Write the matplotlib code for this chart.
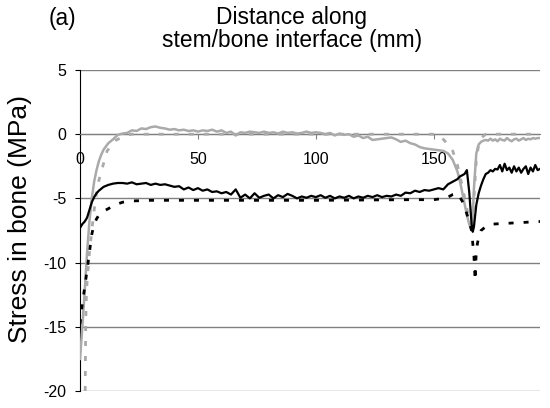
#! /usr/bin/env python

# Stress in bone along the stem/bone interface, panel (a)

import matplotlib
matplotlib.use('Agg')
import matplotlib.pyplot as plt

plt.rcParams['font.family'] = ['Liberation Sans', 'DejaVu Sans']
plt.rcParams['axes.unicode_minus'] = False

# solid lines share one x grid (mm)
x_solid = [0, 1, 2, 3, 4, 5, 6, 7, 8, 9, 10,
           12, 14, 16, 18, 20, 22, 24, 26, 28, 30, 32, 34, 36, 38, 40,
           42, 44, 46, 48, 50, 52, 54, 56, 58, 60, 62, 64, 66, 68, 70,
           72, 74, 76, 78, 80, 82, 84, 86, 88, 90, 92, 94, 96, 98, 100,
           102, 104, 106, 108, 110, 112, 114, 116, 118, 120, 122, 124, 126, 128, 130,
           132, 134, 136, 138, 140, 142, 144, 146, 148, 150, 152, 154, 156, 158, 160,
           161, 162, 163, 164, 165, 166, 166.5,
           167, 168, 169, 170, 171, 172, 173, 174, 175, 176, 177, 178, 179, 180,
           181, 182, 183, 184, 185, 186, 187, 188, 189, 190, 191, 192, 193, 194, 195]

black_solid = [-7.3, -7.0, -6.8, -6.5, -5.9, -5.3, -4.9, -4.6, -4.4, -4.25, -4.1,
               -3.95, -3.85, -3.8, -3.8, -3.85, -3.75, -3.9, -3.85, -3.8, -3.95, -3.85, -3.95, -3.9, -4.0, -4.1,
               -4.05, -4.3, -4.15, -4.35, -4.2, -4.4, -4.3, -4.5, -4.45, -4.6, -4.5, -4.7, -4.3, -4.95, -4.7,
               -5.0, -4.6, -4.95, -4.8, -4.7, -5.0, -4.75, -4.9, -4.65, -4.8, -5.0, -4.85, -4.95, -4.8, -4.9,
               -4.75, -4.95, -4.8, -5.0, -4.85, -4.95, -4.8, -5.0, -4.85, -4.95, -4.8, -4.9, -4.75, -4.9, -4.8,
               -4.85, -4.7, -4.8, -4.55, -4.6, -4.4, -4.5, -4.35, -4.4, -4.3, -4.2, -4.3, -3.9, -3.7, -3.5,
               -3.3, -3.2, -3.1, -2.8, -4.5, -7.0, -7.6,
               -7.2, -5.5, -4.6, -4.0, -3.5, -3.1, -3.0, -2.8, -2.9, -2.7, -2.75, -2.4, -2.9, -2.3,
               -2.8, -2.6, -3.0, -2.5, -2.9, -2.6, -3.0, -2.7, -2.5, -3.1, -2.6, -2.9, -2.4, -2.8, -2.7]

gray_solid = [-17.5, -15.0, -12.2, -9.2, -6.8, -5.0, -3.7, -2.8, -2.1, -1.6, -1.2,
              -0.7, -0.4, -0.05, 0.05, 0.1, 0.3, 0.25, 0.45, 0.4, 0.55, 0.6, 0.5, 0.45, 0.35, 0.4,
              0.3, 0.35, 0.25, 0.3, 0.2, 0.3, 0.25, 0.35, 0.2, 0.3, 0.1, 0.2, -0.1, 0.15, 0.1,
              0.2, 0.15, 0.1, 0.2, 0.1, 0.15, 0.05, 0.2, 0.1, 0.15, 0.05, 0.1, 0.2, 0.1, 0.15,
              0.1, 0.0, 0.1, -0.1, 0.05, -0.05, 0.0, -0.2, -0.1, -0.3, -0.2, -0.45, -0.4, -0.35, -0.3,
              -0.25, -0.4, -0.6, -0.5, -0.7, -0.8, -1.0, -1.1, -1.15, -1.2, -1.25, -1.3, -1.5, -2.0, -2.9,
              -3.6, -4.5, -5.4, -6.3, -7.0, -7.5, -6.3,
              -4.2, -1.5, -0.8, -0.6, -0.5, -0.45, -0.5, -0.35, -0.5, -0.4, -0.55, -0.35, -0.45, -0.5,
              -0.3, -0.45, -0.55, -0.4, -0.35, -0.5, -0.4, -0.3, -0.45, -0.35, -0.4, -0.3, -0.35, -0.3, -0.3]

x_black_dash = [0, 1, 2, 3, 4, 5, 6, 7, 8, 10, 12, 15, 18, 22, 30, 60, 100, 140, 150,
                154, 156, 158, 160, 162, 164, 166, 167, 167.5, 168, 169, 170, 172, 175, 185, 195]
black_dash = [-14.8, -13.2, -11.9, -10.6, -9.2, -7.8, -7.0, -6.6, -6.3, -6.0, -5.8, -5.5, -5.3, -5.2,
              -5.15, -5.15, -5.15, -5.1, -5.1,
              -5.0, -4.9, -4.7, -4.6, -5.2, -6.2, -7.5, -9.5, -11.4, -9.0, -8.0, -7.5, -7.2, -7.0, -6.9, -6.8]

x_gray_dash = [2.2, 2.4, 2.7, 3, 4, 5, 6, 7, 8, 9.5, 11.5, 15, 19, 22, 60, 100, 140, 150,
               152, 154, 156, 158, 160, 162, 164, 166, 167, 168, 169, 170, 172, 195]
gray_dash = [-20, -15, -12.5, -11.5, -9.2, -7.5, -5.9, -4.6, -3.6, -2.6, -1.3, -0.5, -0.1, 0.0,
             0.0, 0.0, 0.0, 0.0,
             -0.1, -0.4, -0.8, -1.3, -2.4, -4.0, -5.8, -7.6, -5.0, -2.0, -0.8, -0.3, 0.0, 0.0]

x_ticks = [0, 50, 100, 150]
y_ticks = [-20, -15, -10, -5, 0, 5]

gris = '#aaaaaa'
rejilla = '#808080'

fig = plt.figure(figsize=(5.5, 4.08), dpi=100)
ax = fig.add_axes([80 / 550, 1 - 391 / 408, 460 / 550, 321 / 408])

ax.plot(x_gray_dash, gray_dash, color=gris, lw=2.0, linestyle=(0, (1.8, 3.6)), zorder=3)
ax.plot(x_solid, gray_solid, color=gris, lw=1.8, zorder=4)
ax.plot(x_black_dash, black_dash, color='black', lw=2.0, linestyle=(0, (1.8, 3.6)), zorder=5)
ax.plot(x_solid, black_solid, color='black', lw=1.6, zorder=6)

ax.set_xlim(0, 195)
ax.set_ylim(-20, 5)
ax.set_xticks(x_ticks)
ax.set_yticks(y_ticks)

ax.yaxis.grid(True, color=rejilla, lw=1)
ax.set_axisbelow(True)

for s in ['top', 'right']:
    ax.spines[s].set_visible(False)
ax.spines['bottom'].set_position(('data', 0))
ax.spines['bottom'].set_color(rejilla)
ax.spines['left'].set_color('black')

ax.tick_params(axis='x', direction='out', length=3.6, color=rejilla, labelsize=11.5, pad=9)
ax.tick_params(axis='y', direction='out', length=3.6, color='black', labelsize=11.5, pad=6)

fig.text(62 / 550, 1 - 18 / 408, '(a)', ha='center', va='center', fontsize=16.4)
fig.text(292 / 550, 1 - 29 / 408, 'Distance along\nstem/bone interface (mm)',
         ha='center', va='center', fontsize=16.4, linespacing=1.0)
fig.text(20 / 550, 1 - 219 / 408, 'Stress in bone (MPa)', rotation=90,
         ha='center', va='center', fontsize=19)

plt.savefig('out.png', dpi=100)
